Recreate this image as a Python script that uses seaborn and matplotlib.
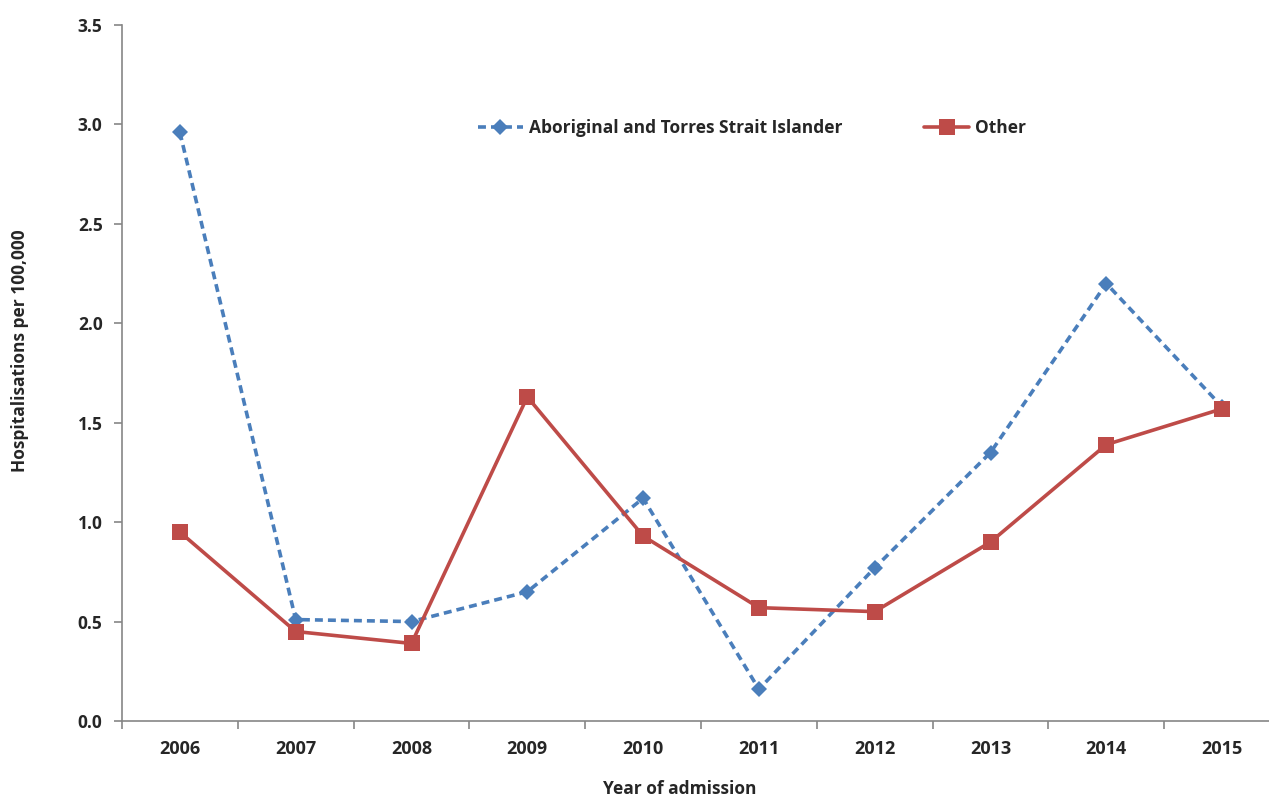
import matplotlib
matplotlib.use("Agg")
import matplotlib.pyplot as plt
import numpy as np
import pandas as pd
import seaborn as sns

years = [2006, 2007, 2008, 2009, 2010, 2011, 2012, 2013, 2014, 2015]
aboriginal = [2.96, 0.51, 0.50, 0.65, 1.12, 0.16, 0.77, 1.35, 2.20, 1.58]
other = [0.95, 0.45, 0.39, 1.63, 0.93, 0.57, 0.55, 0.90, 1.39, 1.57]
series_names = ["Aboriginal and Torres Strait Islander", "Other"]

df = pd.DataFrame({
    "year": years * 2,
    "rate": aboriginal + other,
    "group": [series_names[0]] * len(years) + [series_names[1]] * len(years),
})

sns.set_style("white")
plt.rcParams["font.family"] = ["Open Sans", "DejaVu Sans"]
plt.rcParams["font.weight"] = "bold"

fig = plt.figure(figsize=(12.69, 7.96), dpi=100)
# axis runs off the right edge of the picture, like the original
ax = fig.add_axes([122 / 1269, 75 / 796, (1280 - 122) / 1269, 696 / 796])

blue = "#4A7EBB"
red = "#BE4B48"

sns.lineplot(data=df, x="year", y="rate", hue="group", style="group",
             palette={series_names[0]: blue, series_names[1]: red},
             dashes={series_names[0]: (2.2, 1.4), series_names[1]: ""},
             markers={series_names[0]: "D", series_names[1]: "s"},
             markersize=9, linewidth=2.6, markeredgewidth=0,
             ax=ax)
for ln in ax.lines:
    if ln.get_marker() == "s":
        ln.set_markersize(11)
    elif ln.get_marker() == "D":
        ln.set_markersize(8)

ax.set_xlim(2005.5, 2015.5)
ax.set_ylim(0, 3.5)
ax.set_yticks(np.arange(0, 3.51, 0.5))
ax.set_yticklabels([f"{v:.1f}" for v in np.arange(0, 3.51, 0.5)])
ax.set_xticks(years)
ax.set_xticks(np.arange(2005.5, 2016, 1.0), minor=True)

for side in ["top", "right"]:
    ax.spines[side].set_visible(False)
for side in ["left", "bottom"]:
    ax.spines[side].set_color("#868686")
    ax.spines[side].set_linewidth(1.2)

ax.tick_params(axis="y", which="major", direction="out", length=6, width=1.2,
               color="#868686", left=True, labelsize=12.5, pad=8)
ax.tick_params(axis="x", which="major", length=0, labelsize=13, pad=14)
ax.tick_params(axis="x", which="minor", direction="out", length=6, width=1.2,
               color="#868686", bottom=True)
for lbl in ax.get_xticklabels() + ax.get_yticklabels():
    lbl.set_fontweight("bold")

ax.set_xlabel("Year of admission", fontsize=12.5, fontweight="bold")
ax.set_ylabel("Hospitalisations per 100,000", fontsize=12.5, fontweight="bold")
ax.xaxis.set_label_coords((680 - 122) / (1280 - 122), -0.085)
ax.yaxis.set_label_coords((29 - 122) / (1280 - 122), 0.532)

handles, labels = ax.get_legend_handles_labels()
ax.legend(handles, labels, ncol=2, frameon=False, fontsize=12.5,
          loc="center left", bbox_to_anchor=((462 - 122) / (1280 - 122), (721 - 128) / 696),
          handlelength=2.6, handletextpad=0.35, columnspacing=4.7)

fig.savefig("out.png", dpi=100)
